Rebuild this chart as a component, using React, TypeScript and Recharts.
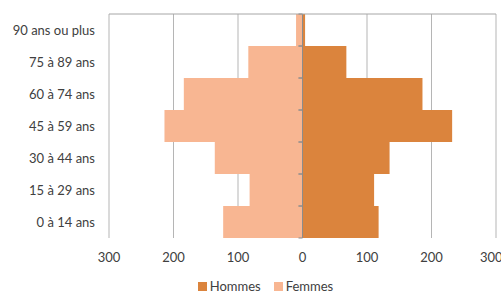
import React from 'react';
import { BarChart, Bar, XAxis, YAxis, CartesianGrid, Legend, ReferenceLine } from 'recharts';

const categories = ['90 ans ou plus', '75 à 89 ans', '60 à 74 ans', '45 à 59 ans', '30 à 44 ans', '15 à 29 ans', '0 à 14 ans'];
const hommes = [4, 68, 186, 232, 135, 111, 118];
const femmes = [10, 84, 184, 214, 136, 82, 123];
const xTicks = [-300, -200, -100, 0, 100, 200, 300];

const data = categories.map((c, i) => ({ cat: c, hommes: hommes[i], femmes: -femmes[i] }));

const W = 501;
const H = 293;
const M = { top: 13, right: 5, bottom: 0, left: 9 };
const YW = 100;
const XB_H = 30;
const LEG_H = 25;
const plotLeft = M.left + YW;
const plotWidth = W - plotLeft - M.right;
const center = plotLeft + plotWidth / 2;
const plotHeight = H - M.top - 1 - M.bottom - XB_H - LEG_H;
const band = plotHeight / categories.length;
const FONT = 'Lato, "Liberation Sans", sans-serif';
const TEXT = '#404040';

const YTick = (props: any) => {
  const { y, payload } = props;
  return (
    <g>
      <text x={plotLeft - 14} y={y} dy={4.5} textAnchor="end" fontSize={13} fill={TEXT} fontFamily={FONT}>
        {payload.value}
      </text>
      <line x1={center - 4} x2={center} y1={y - band / 2} y2={y - band / 2} stroke="#8c8c8c" />
      <line x1={center - 4} x2={center} y1={y + band / 2} y2={y + band / 2} stroke="#8c8c8c" />
    </g>
  );
};

const LegendContent = (props: any) => {
  const items = [...(props.payload || [])].sort((a: any, b: any) =>
    a.value === 'Hommes' ? -1 : b.value === 'Hommes' ? 1 : 0
  );
  return (
    <div style={{ display: 'flex', justifyContent: 'center', alignItems: 'center', paddingLeft: 26, fontFamily: FONT, fontSize: 13, color: TEXT, lineHeight: '13px', height: 13 }}>
      {items.map((it: any, i: number) => (
        <div key={i} style={{ display: 'flex', alignItems: 'center', marginRight: i === 0 ? 13 : 0 }}>
          <span style={{ display: 'inline-block', width: 9, height: 9, background: it.color, marginRight: 3 }} />
          <span>{it.value}</span>
        </div>
      ))}
    </div>
  );
};

export default function App() {
  return (
    <div style={{ position: 'absolute', left: 0, top: 0, background: '#fff' }}>
      <BarChart
        width={W}
        height={H}
        data={data}
        layout="vertical"
        margin={M}
        barCategoryGap={0}
        stackOffset="sign"
      >
        <CartesianGrid horizontal={false} vertical stroke="#b5b5b5" xAxisId="bottom" />
        <XAxis
          xAxisId="top"
          orientation="top"
          type="number"
          domain={[-300, 300]}
          ticks={xTicks}
          height={1}
          tick={false}
          tickSize={3}
          stroke="#a6a6a6"
          allowDataOverflow
        />
        <XAxis
          xAxisId="bottom"
          orientation="bottom"
          type="number"
          domain={[-300, 300]}
          ticks={xTicks}
          height={XB_H}
          axisLine={false}
          tickLine={false}
          tickSize={0}
          tickMargin={15}
          tickFormatter={(v: number) => String(Math.abs(v))}
          tick={{ fontSize: 13, fill: TEXT, fontFamily: FONT }}
        />
        <YAxis
          type="category"
          dataKey="cat"
          width={YW}
          axisLine={false}
          tickLine={false}
          tick={<YTick />}
          interval={0}
        />
        <Bar dataKey="hommes" name="Hommes" stackId="a" fill="#DB843D" xAxisId="bottom" isAnimationActive={false} />
        <Bar dataKey="femmes" name="Femmes" stackId="a" fill="#F8B692" xAxisId="bottom" isAnimationActive={false} />
        <ReferenceLine x={0} xAxisId="bottom" stroke="#8c8c8c" />
        <Legend
          verticalAlign="bottom"
          height={LEG_H}
          content={<LegendContent />}
          wrapperStyle={{ top: 280 }}
        />
      </BarChart>
    </div>
  );
}
